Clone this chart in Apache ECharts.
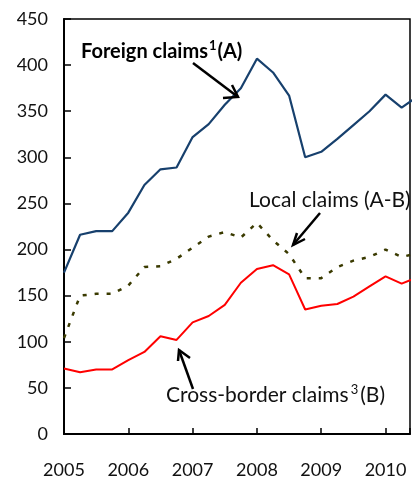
<!DOCTYPE html>
<html>
<head>
<meta charset="utf-8">
<script src="https://cdn.jsdelivr.net/npm/echarts@6/dist/echarts.min.js"></script>
<style>
  html, body { margin: 0; padding: 0; background: #fff; }
  #chart { width: 413px; height: 479px; }
</style>
</head>
<body>
<div id="chart"></div>
<script>
// quarterly observations, 2005 Q1 .. 2010 Q3
const quarters = [2005, 2005.25, 2005.5, 2005.75, 2006, 2006.25, 2006.5, 2006.75,
  2007, 2007.25, 2007.5, 2007.75, 2008, 2008.25, 2008.5, 2008.75,
  2009, 2009.25, 2009.5, 2009.75, 2010, 2010.25, 2010.5]
const foreignClaims = [175, 216, 220, 220, 240, 270, 287, 289, 322, 336, 357, 375,
  407, 392, 367, 300, 306, 320, 335, 350, 368, 354, 366]
const localClaims = [104, 150, 152, 152, 161, 181, 182, 190, 202, 214, 219, 213,
  229, 210, 195, 169, 169, 181, 188, 192, 200, 192, 196]
const crossBorderClaims = [71, 67, 70, 70, 80, 89, 106, 102, 121, 128, 140, 164,
  179, 183, 173, 135, 139, 141, 149, 160, 171, 163, 170]
const yearTicks = [2005, 2006, 2007, 2008, 2009, 2010]

const font = 'Lato, "Open Sans", sans-serif'

function pairs(values) {
  return values.map((v, i) => [quarters[i], v])
}

function arrow(tail, head, wing1, wing2) {
  const st = {stroke: '#000', lineWidth: 2.5, fill: null}
  return [
    {type: 'polyline', shape: {points: [tail, head]}, style: st, z: 100},
    {type: 'polyline', shape: {points: [wing1, head, wing2]}, style: st, z: 100}
  ]
}

const chart = echarts.init(document.getElementById('chart'))
chart.setOption({
  animation: false,
  grid: {
    left: 64, right: -2, top: 19, bottom: 42,
    show: true, borderColor: '#000', borderWidth: 1.5, backgroundColor: 'transparent'
  },
  xAxis: {
    type: 'value',
    min: 2005, max: 2010.38, interval: 1,
    splitLine: {show: false},
    axisLine: {lineStyle: {color: '#000', width: 2}},
    axisTick: {inside: true, length: 6, lineStyle: {color: '#000', width: 1.5}},
    axisLabel: {
      color: '#111', fontSize: 18, fontFamily: font, margin: 27,
      formatter: v => yearTicks.indexOf(v) >= 0 ? String(v) : ''
    }
  },
  yAxis: {
    type: 'value',
    min: 0, max: 450, interval: 50,
    splitLine: {show: false},
    axisLine: {show: true, lineStyle: {color: '#000', width: 2}},
    axisTick: {show: true, inside: true, length: 7, lineStyle: {color: '#000', width: 1.5}},
    axisLabel: {color: '#111', fontSize: 18, fontFamily: font, margin: 16}
  },
  series: [
    {
      name: 'Foreign claims', type: 'line', symbol: 'none',
      lineStyle: {color: '#17406d', width: 2.2},
      data: pairs(foreignClaims)
    },
    {
      name: 'Local claims', type: 'line', symbol: 'none',
      lineStyle: {color: '#3a3a00', width: 2.5, type: [4, 8]},
      data: pairs(localClaims)
    },
    {
      name: 'Cross-border claims', type: 'line', symbol: 'none',
      lineStyle: {color: '#ff0000', width: 2},
      data: pairs(crossBorderClaims)
    }
  ],
  graphic: [
    {
      type: 'text', left: 81, top: 39, z: 100,
      style: {
        text: '{a|Foreign claims}{s|1}{b|(A)}',
        fontWeight: 'bold',
        rich: {
          a: {fontSize: 20, fontFamily: font, fontWeight: 'bold', fill: '#000'},
          b: {fontSize: 20, fontFamily: font, fontWeight: 'bold', fill: '#000'},
          s: {fontSize: 13, fontFamily: font, fontWeight: 'bold', fill: '#000', padding: [0, 1, 12, 1]}
        }
      }
    },
    {
      type: 'text', left: 249, top: 190, z: 100,
      style: {text: 'Local claims (A-B)', fontSize: 21, fontFamily: font, fill: '#111'}
    },
    {
      type: 'text', left: 166, top: 383, z: 100,
      style: {
        text: '{a|Cross-border claims}{s|3}{a|(B)}',
        rich: {
          a: {fontSize: 21, fontFamily: font, fill: '#111'},
          s: {fontSize: 13, fontFamily: font, fill: '#111', padding: [0, 2, 12, 2]}
        }
      }
    },
    ...arrow([193, 63], [238, 97], [223, 98], [232, 85]),
    ...arrow([320, 213], [293, 245], [297, 233], [305, 239]),
    ...arrow([193, 389], [179, 350], [178, 361], [190, 358])
  ]
})
</script>
</body>
</html>
